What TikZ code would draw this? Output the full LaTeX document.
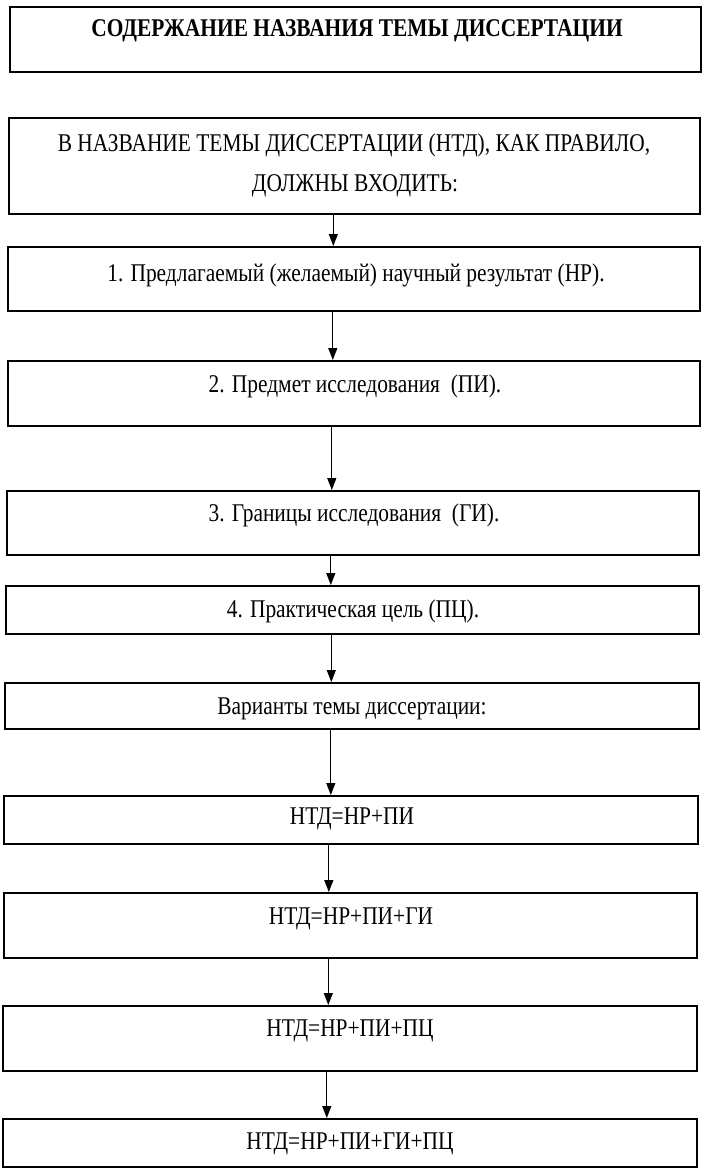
\documentclass[tikz,border=0pt]{standalone}
\usepackage{fontspec}
\setmainfont{Liberation Serif}[FakeStretch=0.84]
\usetikzlibrary{arrows.meta}
\begin{document}
\begin{tikzpicture}[x=1pt,y=-1pt,
  boxst/.style={draw, line width=1.6pt, inner sep=0pt, anchor=north west},
  txt/.style={anchor=base, inner sep=0pt, font=\fontsize{25.5}{30}\selectfont},
  ttl/.style={anchor=base, inner sep=0pt, font=\fontsize{25.5}{30}\selectfont\bfseries},
  arr/.style={line width=1.3pt, -{Triangle[length=12pt,width=9pt]}}]
\useasboundingbox (0,0) rectangle (705,1169);
% boxes
\node[boxst, minimum width=691pt, minimum height=65pt] (b1) at (9,6) {};
\node[boxst, minimum width=691pt, minimum height=96pt] (b2) at (8,117) {};
\node[boxst, minimum width=692pt, minimum height=64pt] (b3) at (7,246) {};
\node[boxst, minimum width=692pt, minimum height=65pt] (b4) at (7,360) {};
\node[boxst, minimum width=692pt, minimum height=64pt] (b5) at (6,490) {};
\node[boxst, minimum width=693pt, minimum height=48pt] (b6) at (5,585) {};
\node[boxst, minimum width=694pt, minimum height=46pt] (b7) at (4,682) {};
\node[boxst, minimum width=694pt, minimum height=48pt] (b8) at (3,795) {};
\node[boxst, minimum width=693pt, minimum height=65pt] (b9) at (3,892) {};
\node[boxst, minimum width=694pt, minimum height=65pt] (b10) at (2,1005) {};
\node[boxst, minimum width=694pt, minimum height=48pt] (b11) at (2,1118) {};
% texts
\node[ttl] (t1) at (357,37) {СОДЕРЖАНИЕ НАЗВАНИЯ ТЕМЫ ДИССЕРТАЦИИ};
\node[txt] (t2a) at (354,152) {В НАЗВАНИЕ ТЕМЫ ДИССЕРТАЦИИ (НТД), КАК ПРАВИЛО,};
\node[txt] (t2b) at (355,191) {ДОЛЖНЫ ВХОДИТЬ:};
\node[txt] (t3) at (356,281) {1. Предлагаемый (желаемый) научный результат (НР).};
\node[txt] (t4) at (355,392) {2. Предмет исследования\ \ (ПИ).};
\node[txt] (t5) at (354,521) {3. Границы исследования\ \ (ГИ).};
\node[txt] (t6) at (353,617) {4. Практическая цель (ПЦ).};
\node[txt] (t7) at (352,714) {Варианты темы диссертации:};
\node[txt] (t8) at (352,824) {НТД=НР+ПИ};
\node[txt] (t9) at (351,924) {НТД=НР+ПИ+ГИ};
\node[txt] (t10) at (350,1036) {НТД=НР+ПИ+ПЦ};
\node[txt] (t11) at (350,1149) {НТД=НР+ПИ+ГИ+ПЦ};
% arrows
\foreach \a/\b/\s in {b2/b3/-21, b3/b4/-21, b4/b5/-22, b5/b6/-22, b6/b7/-21, b7/b8/-21, b8/b9/-22, b9/b10/-22, b10/b11/-23}
  \draw[arr] ([xshift=\s]\a.south) -- ([xshift=\s]\a.south |- \b.north);
\end{tikzpicture}
\end{document}
